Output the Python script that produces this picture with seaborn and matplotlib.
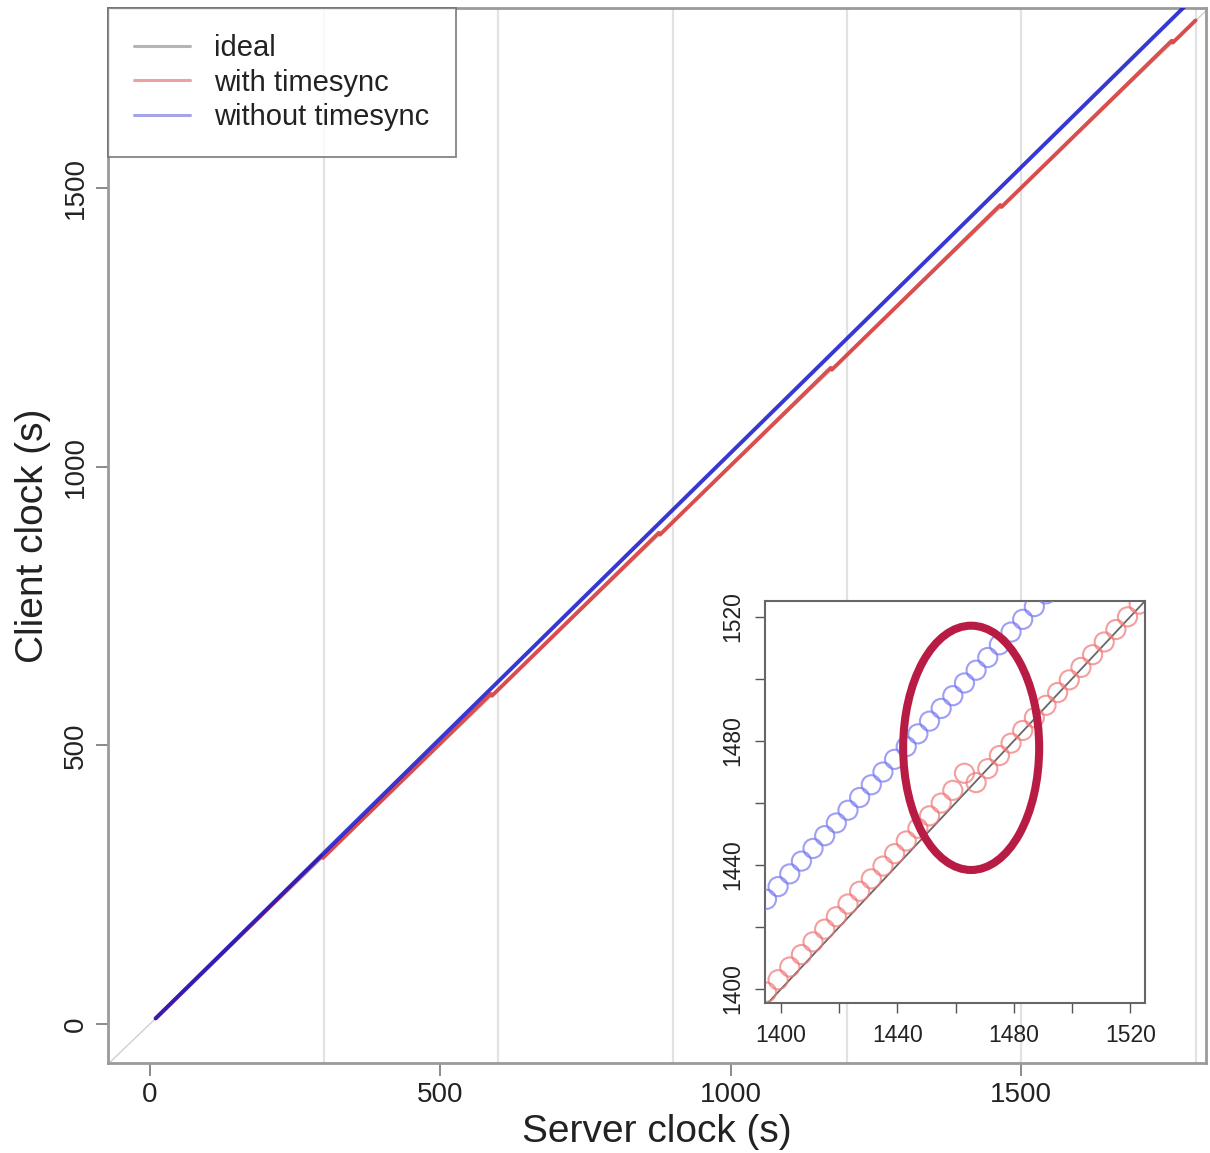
import matplotlib
matplotlib.use("Agg")
import matplotlib.pyplot as plt
import seaborn as sns
import pandas as pd
from matplotlib.lines import Line2D
from matplotlib.patches import Ellipse

sns.set_style("white")
plt.rcParams["font.family"] = ["Liberation Sans", "DejaVu Sans"]

# ---------------- data ----------------
# main panel: vertices of the two clock traces (server s -> client s)
red_server = [10, 296, 298, 587, 589, 876, 878, 1172, 1174, 1464, 1466, 1759, 1761, 1800]
red_client = [10, 301.1, 298, 592.2, 589, 881.2, 878, 1177.3, 1174, 1469.5, 1466, 1764.3, 1761, 1800.7]
blue_server = [10, 1800]
blue_client = [10, 1845]
ideal_server = [-200, 2000]
ideal_client = [-200, 2000]
sync_marks = [300, 600, 900, 1200, 1500, 1800]

# inset panel: individual samples
inset_server = [1391, 1395, 1399, 1403, 1407, 1411, 1415, 1419, 1423, 1427, 1431,
                1435, 1439, 1443, 1447, 1451, 1455, 1459, 1463, 1467, 1471, 1475,
                1479, 1483, 1487, 1491, 1495, 1499, 1503, 1507, 1511, 1515, 1519, 1523]
inset_red = [1395.0, 1399.0, 1403.0, 1407.1, 1411.1, 1415.2, 1419.3, 1423.3, 1427.4,
             1431.5, 1435.5, 1439.6, 1443.6, 1447.7, 1451.8, 1455.8, 1459.9, 1464.0,
             1469.5, 1466.5, 1471.0, 1475.2, 1479.2, 1483.3, 1487.4, 1491.4, 1495.5,
             1499.6, 1503.6, 1507.7, 1511.8, 1515.8, 1519.9, 1524.0]
inset_blue = [1424.8, 1428.9, 1433.0, 1437.1, 1441.2, 1445.3, 1449.4, 1453.5, 1457.6,
              1461.7, 1465.8, 1469.9, 1474.0, 1478.1, 1482.2, 1486.3, 1490.4, 1494.5,
              1498.6, 1502.7, 1506.8, 1510.9, 1515.0, 1519.1, 1523.2, 1527.3, 1531.4,
              1535.5, 1539.6, 1543.7, 1547.8, 1551.9, 1556.0, 1560.1]

main_xticks = [0, 500, 1000, 1500]
main_yticks = [0, 500, 1000, 1500]
inset_ticks = [1400, 1420, 1440, 1460, 1480, 1500, 1520]
inset_ticklabels = ["1400", "", "1440", "", "1480", "", "1520"]
legend_labels = ["ideal", "with timesync", "without timesync"]

# ---------------- figure ----------------
W, H = 1210, 1153
fig = plt.figure(figsize=(W / 100, H / 100), dpi=100)
fig.patch.set_facecolor("white")

ax = fig.add_axes([108 / W, 1 - 1063 / H, (1206 - 108) / W, (1063 - 8) / H])
ax.set_xlim(-72, 1818)
ax.set_ylim(-70, 1823)

for xv in sync_marks:
    ax.axvline(xv, color="#e2e2e2", lw=1.6, zorder=0)

sns.lineplot(x=ideal_server, y=ideal_client, ax=ax, color="#d0d0d0", lw=1.0,
             sort=False, estimator=None, zorder=1)
sns.lineplot(x=red_server, y=red_client, ax=ax, color="#d83c3c", lw=2.8, alpha=0.9,
             sort=False, estimator=None, zorder=2)
sns.lineplot(x=blue_server, y=blue_client, ax=ax, color="#1414cc", lw=2.8, alpha=0.85,
             sort=False, estimator=None, zorder=3)

ax.set_xticks(main_xticks)
ax.set_yticks(main_yticks)
ax.set_xticklabels([str(v) for v in main_xticks], fontsize=20, color="#222222")
ax.set_yticklabels([str(v) for v in main_yticks], fontsize=20, color="#222222",
                   rotation=90, va="center")
ax.tick_params(axis="both", length=9, width=1.2, color="#777777", direction="out",
               bottom=True, left=True, pad=5)
ax.set_xlabel("Server clock (s)", fontsize=28, color="#222222", labelpad=4)
ax.set_ylabel("Client clock (s)", fontsize=28, color="#222222", labelpad=8)
for sp in ax.spines.values():
    sp.set_color("#9a9a9a")
    sp.set_linewidth(2.0)

handles = [Line2D([], [], color="#b4b4b4", lw=2.2),
           Line2D([], [], color="#eba2a2", lw=2.2),
           Line2D([], [], color="#a4a4e8", lw=2.2)]
leg = ax.legend(handles, legend_labels, loc="upper left", bbox_to_anchor=(0, 1),
                borderaxespad=0, fontsize=21, frameon=True, fancybox=False,
                handlelength=1.9, handletextpad=0.85, labelspacing=0.22,
                borderpad=0.9)
leg.get_frame().set_edgecolor("#666666")
leg.get_frame().set_linewidth(1.3)
for t in leg.get_texts():
    t.set_color("#222222")

# ---------------- inset ----------------
axin = fig.add_axes([765 / W, 1 - 1003 / H, 380 / W, 402 / H])
axin.set_facecolor("white")
axin.set_zorder(5)
axin.set_xlim(1394.5, 1525)
axin.set_ylim(1395.5, 1525)

sns.lineplot(x=ideal_server, y=ideal_client, ax=axin, color="#666666", lw=1.3,
             sort=False, estimator=None, zorder=1)
sns.scatterplot(x=inset_server, y=inset_red, ax=axin, marker="o", s=190, zorder=2)
c_red = axin.collections[-1]
c_red.set_facecolor("none")
c_red.set_edgecolor("#f07676")
c_red.set_alpha(0.7)
c_red.set_linewidth(1.5)
sns.scatterplot(x=inset_server, y=inset_blue, ax=axin, marker="o", s=190, zorder=3)
c_blue = axin.collections[-1]
c_blue.set_facecolor("none")
c_blue.set_edgecolor("#7676f2")
c_blue.set_alpha(0.7)
c_blue.set_linewidth(1.5)

axin.set_xticks(inset_ticks)
axin.set_yticks(inset_ticks)
axin.set_xticklabels(inset_ticklabels, fontsize=16.5, color="#222222")
axin.set_yticklabels(inset_ticklabels, fontsize=16.5, color="#222222", rotation=90,
                     va="center")
axin.tick_params(axis="both", length=7, width=1.0, color="#555555", direction="out",
                 bottom=True, left=True, pad=8)
axin.set_xlabel("")
axin.set_ylabel("")
for sp in axin.spines.values():
    sp.set_color("#666666")
    sp.set_linewidth(1.5)

axin.add_patch(Ellipse((1465.3, 1477.7), 46.7, 78.7, fill=False, ec="#b81c44",
                       lw=5.8, zorder=6, clip_on=False))

fig.savefig("out.png", dpi=100, facecolor="white")
